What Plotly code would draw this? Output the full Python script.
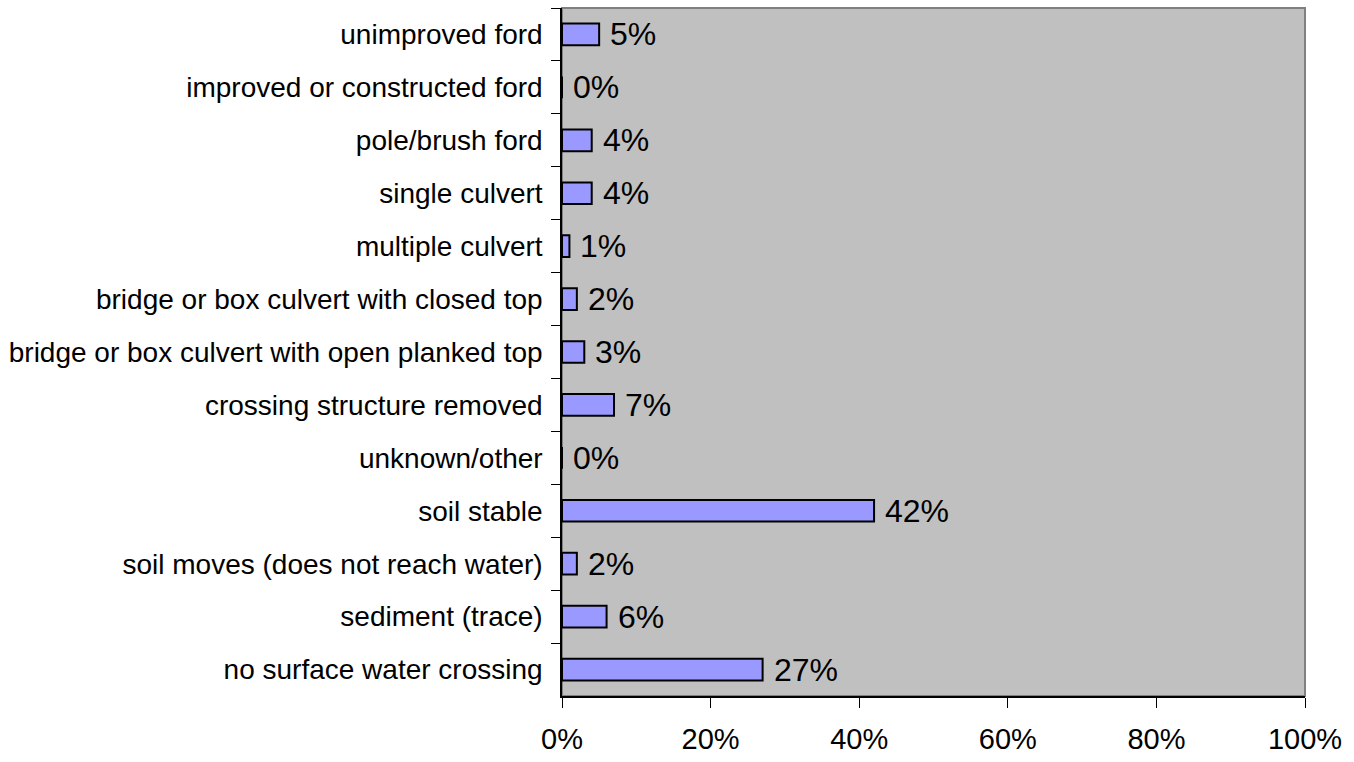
import plotly.graph_objects as go

categories = [
    "unimproved ford",
    "improved or constructed ford",
    "pole/brush ford",
    "single culvert",
    "multiple culvert",
    "bridge or box culvert with closed top",
    "bridge or box culvert with open planked top",
    "crossing structure removed",
    "unknown/other",
    "soil stable",
    "soil moves (does not reach water)",
    "sediment (trace)",
    "no surface water crossing",
]
percent = [5, 0, 4, 4, 1, 2, 3, 7, 0, 42, 2, 6, 27]
x_ticks = [0, 20, 40, 60, 80, 100]
x_tick_labels = ["0%", "20%", "40%", "60%", "80%", "100%"]

FONT = "Liberation Sans, Arial, sans-serif"

fig = go.Figure(
    go.Bar(
        x=percent,
        y=categories,
        orientation="h",
        marker=dict(color="#9999FF", line=dict(color="#000000", width=2)),
        width=0.41,
        hoverinfo="x+y",
    )
)

# value labels just past the end of each bar
annotations = [
    dict(
        x=v, y=c, xref="x", yref="y",
        text=f"{v}%", showarrow=False,
        xanchor="left", yanchor="middle", xshift=9,
        font=dict(family=FONT, size=32, color="#000000"),
    )
    for c, v in zip(categories, percent)
]

fig.update_layout(
    width=1354,
    height=762,
    margin=dict(l=562, r=49, t=8, b=66),
    paper_bgcolor="#FFFFFF",
    plot_bgcolor="#C0C0C0",
    showlegend=False,
    font=dict(family=FONT, size=28, color="#000000"),
    annotations=annotations,
    shapes=[
        dict(
            type="rect", xref="paper", yref="paper", x0=0, x1=1, y0=0, y1=1,
            line=dict(color="#808080", width=2), fillcolor="rgba(0,0,0,0)",
            layer="below",
        )
    ],
)

fig.update_xaxes(
    range=[0, 100],
    tickvals=x_ticks,
    ticktext=x_tick_labels,
    ticks="outside",
    ticklen=10,
    tickcolor="#000000",
    tickwidth=1,
    showgrid=False,
    zeroline=False,
    showline=True,
    linecolor="#000000",
    linewidth=1.5,
    tickfont=dict(family=FONT, size=29),
    ticklabelstandoff=6,
)

fig.update_yaxes(
    autorange="reversed",
    ticks="outside",
    tickson="boundaries",
    ticklen=9,
    tickcolor="#000000",
    tickwidth=1,
    showgrid=False,
    zeroline=False,
    showline=True,
    linecolor="#000000",
    linewidth=1.5,
    tickfont=dict(family=FONT, size=28),
    ticklabelstandoff=12,
)

fig.write_html("out.html")
